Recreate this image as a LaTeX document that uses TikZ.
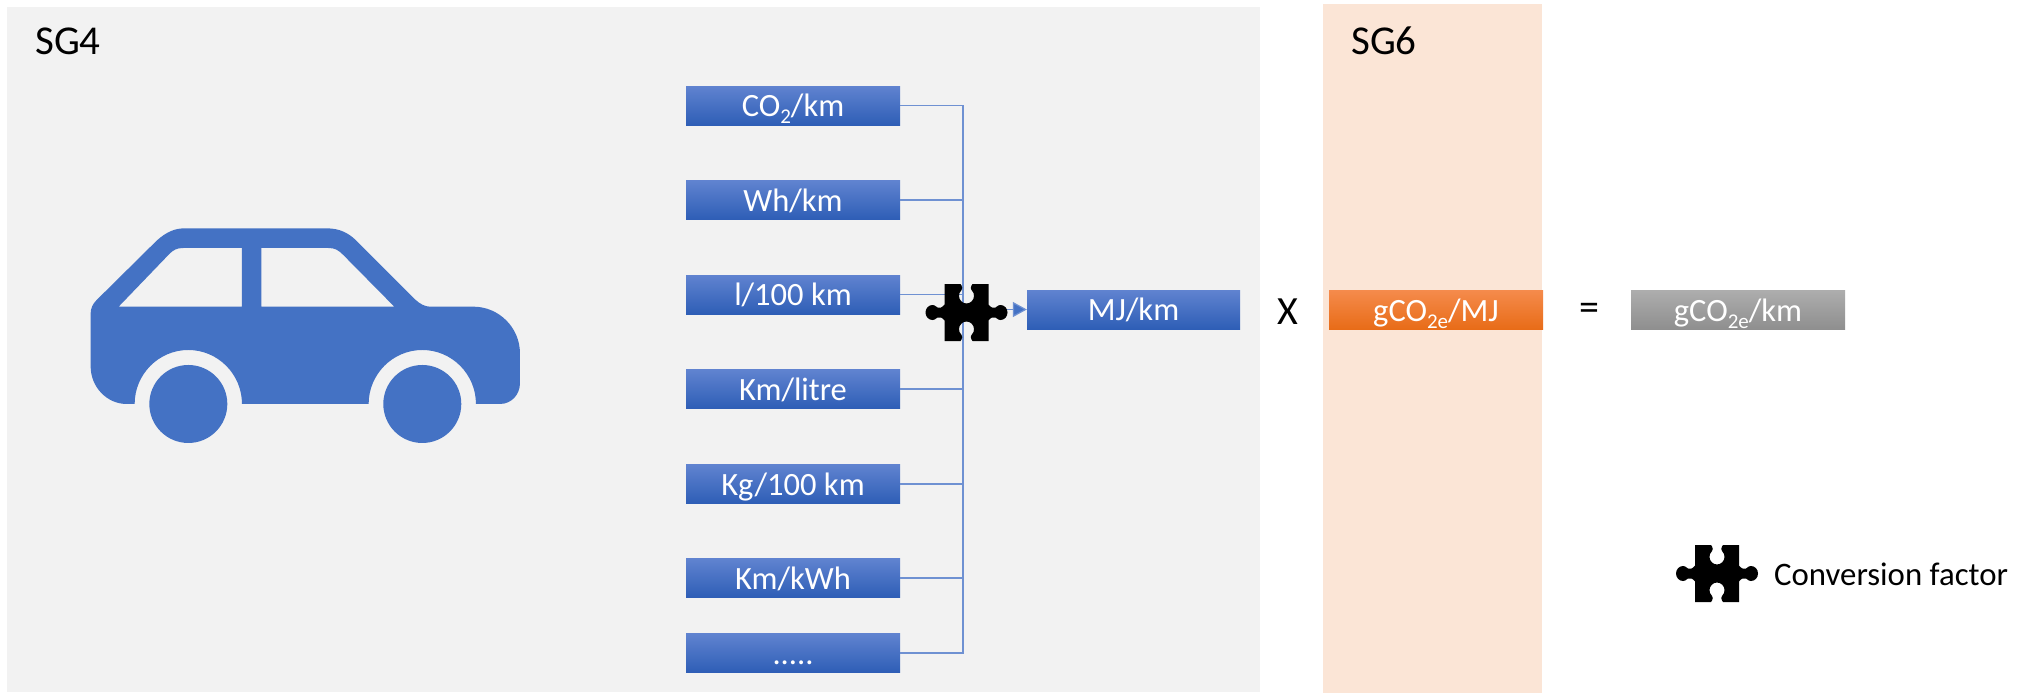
\documentclass[tikz,border=0pt]{standalone}
\usepackage{fontspec}
\setmainfont{Carlito}
\usetikzlibrary{arrows.meta}
\definecolor{sgfour}{HTML}{F2F2F2}
\definecolor{sgsix}{HTML}{FBE5D6}
\definecolor{carblue}{HTML}{4472C4}
\definecolor{bluetop}{HTML}{6083D0}
\definecolor{bluemid}{HTML}{3F6DC8}
\definecolor{bluebot}{HTML}{2E5EB6}
\definecolor{orgtop}{HTML}{F58B4C}
\definecolor{orgmid}{HTML}{F47B25}
\definecolor{orgbot}{HTML}{E86C18}
\definecolor{wirecol}{HTML}{6F91D2}
\newcommand{\lowsub}[1]{\raisebox{-7pt}{\fontsize{21}{21}\selectfont #1}}
\tikzset{
  x=1pt,y=-1pt,
  unitbox/.style={inner sep=0pt,minimum width=214pt,minimum height=39pt,text=white,font=\fontsize{32.5}{34}\selectfont,text height=22pt,text depth=0pt},
  bluebox/.style={unitbox,top color=bluetop,middle color=bluemid,bottom color=bluebot},
  orangebox/.style={unitbox,top color=orgtop,middle color=orgmid,bottom color=orgbot,text height=24pt},
  greybox/.style={unitbox,top color=black!32,bottom color=black!44,text height=24pt},
  sglabel/.style={inner sep=0pt,font=\fontsize{41}{44}\selectfont,anchor=west},
  opsign/.style={inner sep=0pt,font=\fontsize{40}{44}\selectfont},
  wire/.style={draw=wirecol,line width=1.2pt},
  arrowwire/.style={wire,-{Triangle[length=14pt,width=15pt,fill=carblue]}},
  puzzle/.pic={
    \fill[black] (-22,-28.5) -- (-6,-28.5) -- (-5,-27)
      .. controls (-4,-25) and (-4,-24) .. (-5,-22.5)
      .. controls (-7,-20.5) and (-7.5,-18.5) .. (-7.5,-16.5)
      .. controls (-7.5,-12.5) and (-4,-9) .. (0,-9)
      .. controls (4,-9) and (7.5,-12.5) .. (7.5,-16.5)
      .. controls (7.5,-18.5) and (7,-20.5) .. (5,-22.5)
      .. controls (4,-24) and (4,-25) .. (5,-27) -- (6,-28.5)
      -- (22,-28.5) -- (22,-8)
      .. controls (24,-5) and (27,-4) .. (29,-5)
      .. controls (31,-7) and (33,-7.5) .. (34,-7.5)
      .. controls (38,-7.5) and (41,-4) .. (41,0)
      .. controls (41,4) and (38,7.5) .. (34,7.5)
      .. controls (33,7.5) and (31,7) .. (29,5)
      .. controls (27,4) and (24,5) .. (22,8)
      -- (22,28.5) -- (6,28.5) -- (5,27)
      .. controls (4,25) and (4,24) .. (5,22.5)
      .. controls (7,20.5) and (7.5,18.5) .. (7.5,16.5)
      .. controls (7.5,12.5) and (4,9) .. (0,9)
      .. controls (-4,9) and (-7.5,12.5) .. (-7.5,16.5)
      .. controls (-7.5,18.5) and (-7,20.5) .. (-5,22.5)
      .. controls (-4,24) and (-4,25) .. (-5,27) -- (-6,28.5)
      -- (-22,28.5) -- (-22,8)
      .. controls (-24,5) and (-27,4) .. (-29,5)
      .. controls (-31,7) and (-33,7.5) .. (-34,7.5)
      .. controls (-38,7.5) and (-41,4) .. (-41,0)
      .. controls (-41,-4) and (-38,-7.5) .. (-34,-7.5)
      .. controls (-33,-7.5) and (-31,-7) .. (-29,-5)
      .. controls (-27,-4) and (-24,-5) .. (-22,-8) -- cycle;
  }
}
\begin{document}
\begin{tikzpicture}
\useasboundingbox (0,0) rectangle (2033,693);
\fill[white] (0,0) rectangle (2033,693);
\fill[sgfour] (7,7) rectangle (1260,692);
\fill[sgsix] (1323,4) rectangle (1542,693);
\node[sglabel] (sgfourlab) at (35,41) {SG4};
\node[sglabel] (sgsixlab) at (1351,41) {SG6};

% car
\begin{scope}[shift={(60,200)},x=0.3333pt,y=-0.3333pt]
\fill[carblue,even odd rule]
  (92,340) .. controls (92,325) and (98,312) .. (110,300) -- (290,122)
  .. controls (320,95) and (345,85) .. (375,85) -- (800,85)
  .. controls (840,85) and (865,100) .. (885,118) -- (1065,298)
  .. controls (1080,312) and (1095,320) .. (1110,320) -- (1240,320)
  .. controls (1317,320) and (1380,383) .. (1380,460) -- (1380,550)
  .. controls (1380,584) and (1354,612) .. (1320,612) -- (1248,612)
  .. controls (1248,523) and (1176,450) .. (1087,450)
  .. controls (998,450) and (926,523) .. (926,612) -- (546,612)
  .. controls (546,523) and (474,450) .. (385,450)
  .. controls (296,450) and (224,523) .. (224,612) -- (200,612)
  .. controls (140,612) and (92,560) .. (92,500) -- cycle
  (176,320) -- (546,320) -- (546,144) -- (370,144)
  .. controls (350,144) and (340,150) .. (328,162) -- cycle
  (604,320) -- (1003,320) -- (850,165)
  .. controls (835,150) and (825,144) .. (805,144) -- (604,144) -- cycle;
\fill[carblue] (385,612) circle[radius=117];
\fill[carblue] (1087,612) circle[radius=117];
\end{scope}

% source boxes
\node[bluebox] (a) at (793,105.5) {CO\lowsub{2}/km};
\node[bluebox] (b) at (793,200) {Wh/km};
\node[bluebox] (c) at (793,294.5) {l/100 km};
\node[bluebox] (d) at (793,389) {Km/litre};
\node[bluebox] (e) at (793,484) {Kg/100 km};
\node[bluebox] (f) at (793,578) {Km/kWh};
\node[bluebox] (g) at (793,653) {.....};

\node[bluebox,minimum width=213pt] (mj) at (1133.5,309.5) {MJ/km};
\node[orangebox] (co2mj) at (1436,309.5) {gCO\lowsub{2e}/MJ};
\node[greybox] (co2km) at (1738,309.5) {gCO\lowsub{2e}/km};
\node[opsign] (times) at (1288,312) {X};
\node[opsign] (equals) at (1589,312) {=};

% bus
\coordinate (bustop) at (963,105.5);
\coordinate (busbot) at (963,653);
\coordinate (busmid) at (963,309.5);
\path[wire,line join=miter] (a.east) -- (bustop) -- (busbot) -- (g.east);
\foreach \n in {b,c,d,e,f} { \path[wire] (\n.east) -- (\n.east -| bustop); }
\path[arrowwire] (busmid) -- (mj.west);

% puzzle pieces
\coordinate (pz) at (966.5,312.5);
\pic at (pz) {puzzle};
\coordinate (lg) at (1717,573.5);
\pic at (lg) {puzzle};
\node[inner sep=0pt,anchor=base west,font=\fontsize{32.8}{34}\selectfont] (legend) at (1774,585) {Conversion factor};
\end{tikzpicture}
\end{document}
